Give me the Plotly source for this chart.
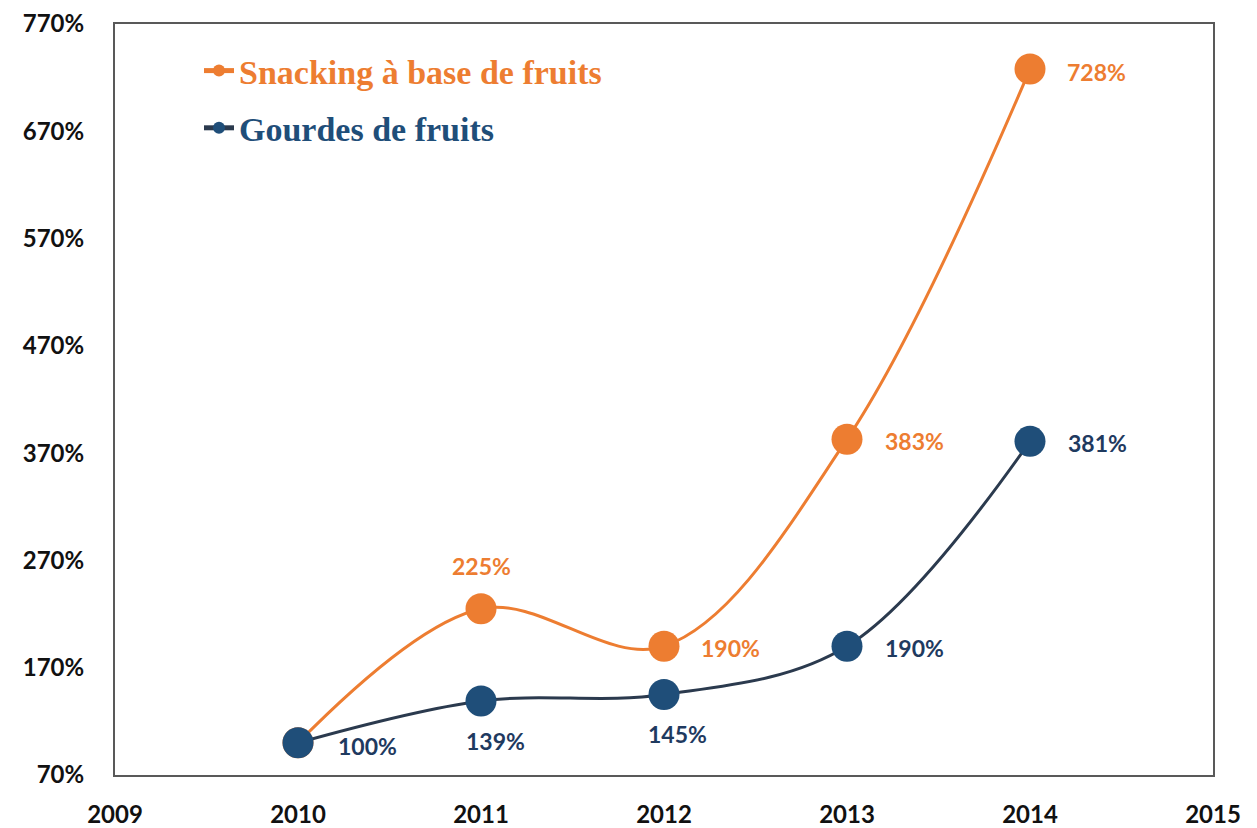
import plotly.graph_objects as go

years = [2010, 2011, 2012, 2013, 2014]
snacking = [100, 225, 190, 383, 728]
gourdes = [100, 139, 145, 190, 381]
series_names = ["Snacking à base de fruits", "Gourdes de fruits"]
y_ticks = [70, 170, 270, 370, 470, 570, 670, 770]
x_ticks = [2009, 2010, 2011, 2012, 2013, 2014, 2015]

ORANGE = "#ED7D31"
NAVY_M = "#1F4E79"
NAVY_L = "#2B3A4E"
NAVY_T = "#1F3A5F"

fig = go.Figure()
fig.add_trace(go.Scatter(
    x=years, y=snacking, mode="lines+markers",
    name=f"<span style='color:{ORANGE}'>{series_names[0]}</span>",
    line=dict(color=ORANGE, width=3, shape="spline", smoothing=1),
    marker=dict(color=ORANGE, size=31),
    legendgroup="a",
))
fig.add_trace(go.Scatter(
    x=years, y=gourdes, mode="lines+markers",
    name=f"<span style='color:{NAVY_M}'>{series_names[1]}</span>",
    line=dict(color=NAVY_L, width=3, shape="spline", smoothing=1),
    marker=dict(color=NAVY_M, size=31),
    legendgroup="b",
))

# data labels: offsets per point
snack_off = [None, (0, 43, "center"), (35, -2, "left"), (36, -2, "left"), (35, -3, "left")]
gourd_off = [(38, -3, "left"), (14, -40, "center"), (13, -39, "center"), (36, -2, "left"), (36, -2, "left")]

LABEL_FONT = dict(family="Lato", size=23, weight="bold")
annotations = []
for x, v, off in zip(years, snacking, snack_off):
    if off is None:
        continue
    annotations.append(dict(x=x, y=v, xref="x", yref="y", text=f"{v}%", showarrow=False,
                            xanchor=off[2], yanchor="middle", xshift=off[0], yshift=off[1],
                            font=dict(**LABEL_FONT, color=ORANGE)))
for x, v, off in zip(years, gourdes, gourd_off):
    annotations.append(dict(x=x, y=v, xref="x", yref="y", text=f"{v}%", showarrow=False,
                            xanchor=off[2], yanchor="middle", xshift=off[0], yshift=off[1],
                            font=dict(**LABEL_FONT, color=NAVY_T)))

# page body offsets the figure slightly, so the figure is a bit smaller
fig.update_layout(
    width=1249, height=822,
    margin=dict(l=107, r=44, t=16, b=55, autoexpand=False),
    paper_bgcolor="white", plot_bgcolor="white",
    showlegend=True,
    legend=dict(
        x=(199 - 115) / 1098, y=(773 - 40) / 751, xanchor="left", yanchor="top",
        font=dict(family="Liberation Serif", size=34, weight="bold"),
        bgcolor="rgba(0,0,0,0)", traceorder="grouped", tracegroupgap=10,
        itemsizing="constant",
    ),
    annotations=annotations,
    xaxis=dict(
        range=[2009, 2015], tickvals=x_ticks, ticktext=[str(t) for t in x_ticks],
        showgrid=False, zeroline=False, showline=True, mirror=True,
        linecolor="#595959", linewidth=2, ticks="", automargin=False,
        tickfont=dict(family="Lato", size=24, color="#111111", weight="bold"),
        ticklabelstandoff=17, ticklabeloverflow="allow",
    ),
    yaxis=dict(
        range=[70, 770], tickvals=y_ticks, ticktext=[f"{t}%" for t in y_ticks],
        showgrid=False, zeroline=False, showline=True, mirror=True,
        linecolor="#595959", linewidth=2, ticks="", automargin=False,
        tickfont=dict(family="Lato", size=24, color="#111111", weight="bold"),
        ticklabelstandoff=24, ticklabeloverflow="allow",
    ),
)

fig.write_html("out.html")
